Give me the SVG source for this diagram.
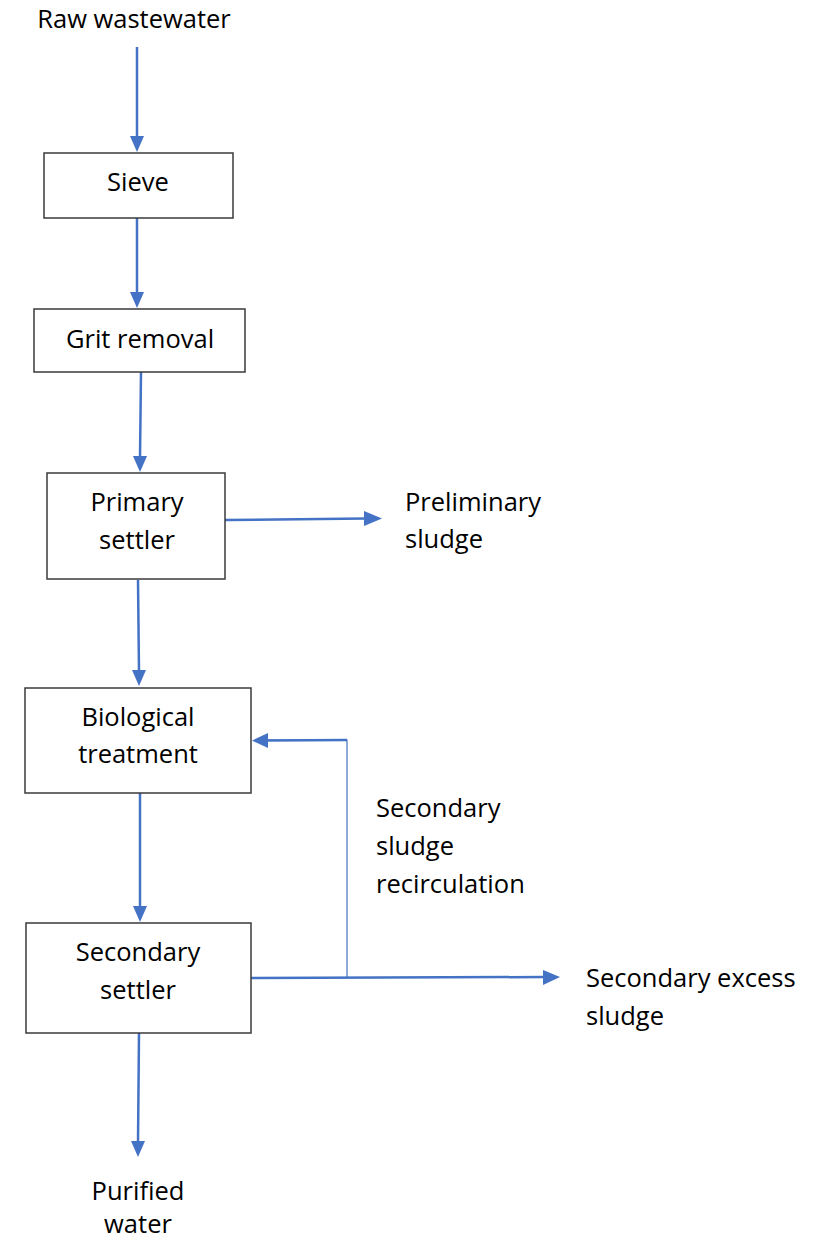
<svg xmlns="http://www.w3.org/2000/svg" width="820" height="1239" viewBox="0 0 820 1239">
<style>
text{font-family:"Open Sans","Noto Sans",sans-serif;font-size:25.5px;fill:#000}
.box{fill:#fff;stroke:#3a3a3a;stroke-width:1.5}
.c{text-anchor:middle}
.ln{stroke:#4472C4;stroke-width:2.5;fill:none}
.thin{stroke:#4472C4;stroke-width:1.2;fill:none}
.ah{fill:#4472C4}
</style>
<rect width="820" height="1239" fill="#fff"/>
<g id="connectors">
<line class="ln" x1="137" y1="47" x2="137" y2="138"/>
<polygon class="ah" points="130,136 144,136 137,152"/>
<line class="ln" x1="137" y1="218" x2="137" y2="294"/>
<polygon class="ah" points="130,292 144,292 137,308"/>
<line class="ln" x1="141" y1="372" x2="140" y2="458"/>
<polygon class="ah" points="133,456 147,456 140,472"/>
<line class="ln" x1="225" y1="520" x2="366" y2="518.5"/>
<polygon class="ah" points="364,511 364,526 382,518.5"/>
<line class="ln" x1="138" y1="580" x2="139" y2="672"/>
<polygon class="ah" points="132,670 146,670 139,686"/>
<line class="ln" x1="140" y1="793" x2="140" y2="908"/>
<polygon class="ah" points="133,906 147,906 140,922"/>
<line class="ln" x1="251" y1="978" x2="545" y2="977"/>
<polygon class="ah" points="543,970 543,985 560,977"/>
<polyline class="thin" points="347,977 347,740 268,740"/>
<line class="ln" x1="347" y1="740" x2="266" y2="740.5"/>
<polygon class="ah" points="268,733 268,748 252,740.5"/>
<line class="ln" x1="139" y1="1033" x2="138" y2="1143"/>
<polygon class="ah" points="131,1141 145,1141 138,1157"/>
</g>
<g id="raw"><text class="c" x="134" y="28">Raw wastewater</text></g>
<g id="sieve"><rect class="box" x="44" y="153" width="189" height="65"/><text class="c" x="138" y="191">Sieve</text></g>
<g id="grit"><rect class="box" x="34" y="309" width="211" height="63"/><text class="c" x="140" y="348">Grit removal</text></g>
<g id="primary"><rect class="box" x="47" y="473" width="178" height="106"/><text class="c" x="137" y="511">Primary</text><text class="c" x="137" y="549">settler</text></g>
<g id="preliminary"><text x="405" y="511">Preliminary</text><text x="405" y="548">sludge</text></g>
<g id="bio"><rect class="box" x="25" y="688" width="226" height="105"/><text class="c" x="138" y="726">Biological</text><text class="c" x="138" y="763">treatment</text></g>
<g id="recirc"><text x="376" y="817">Secondary</text><text x="376" y="855">sludge</text><text x="376" y="893">recirculation</text></g>
<g id="secondary"><rect class="box" x="26" y="923" width="225" height="110"/><text class="c" x="138" y="961">Secondary</text><text class="c" x="138" y="999">settler</text></g>
<g id="excess"><text x="586" y="987">Secondary excess</text><text x="586" y="1025">sludge</text></g>
<g id="purified"><text class="c" x="138" y="1200">Purified</text><text class="c" x="138" y="1233">water</text></g>
</svg>
